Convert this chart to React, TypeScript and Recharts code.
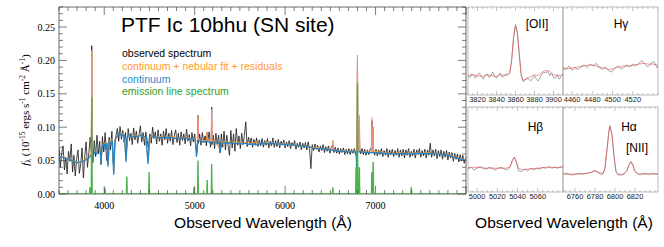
import React from 'react';
import { LineChart, Line, XAxis, YAxis, ReferenceArea } from 'recharts';

type Pt = [number, number | null];

// ---------- main panel data (wavelength in Å, flux in 1e-15 erg/s/cm2/Å) ----------
const observed: Pt[] = [
  [3500, 0.068], [3515, 0.040], [3530, 0.061], [3545, 0.072], [3560, 0.036], [3575, 0.055], [3590, 0.030],
  [3605, 0.064], [3620, 0.049], [3635, 0.075], [3650, 0.033], [3665, 0.058], [3680, 0.027], [3695, 0.052],
  [3710, 0.066], [3725, 0.031], [3740, 0.045], [3755, 0.069], [3770, 0.024], [3785, 0.057], [3800, 0.078],
  [3815, 0.040], [3830, 0.062], [3845, 0.085], [3858, 0.062], [3862, 0.222], [3866, 0.064], [3875, 0.047],
  [3890, 0.080], [3905, 0.056], [3920, 0.088], [3935, 0.060], [3950, 0.079], [3965, 0.044], [3980, 0.086],
  [3995, 0.063], [4010, 0.092], [4025, 0.052], [4040, 0.046], [4055, 0.085], [4070, 0.066], [4085, 0.094],
  [4100, 0.045], [4115, 0.070], [4130, 0.088], [4145, 0.098], [4160, 0.079], [4175, 0.101], [4190, 0.082],
  [4205, 0.095], [4220, 0.077], [4235, 0.092], [4250, 0.070], [4265, 0.098], [4280, 0.080], [4295, 0.091],
  [4310, 0.074], [4325, 0.099], [4340, 0.081], [4355, 0.094], [4370, 0.076], [4385, 0.089], [4400, 0.102],
  [4415, 0.078], [4430, 0.092], [4445, 0.073], [4460, 0.093], [4475, 0.080], [4490, 0.068], [4505, 0.090],
  [4520, 0.076], [4535, 0.100], [4550, 0.083], [4565, 0.093], [4580, 0.075], [4595, 0.096], [4610, 0.079],
  [4625, 0.090], [4640, 0.073], [4655, 0.094], [4670, 0.081], [4685, 0.098], [4700, 0.076], [4715, 0.091],
  [4730, 0.079], [4745, 0.095], [4760, 0.074], [4775, 0.088], [4790, 0.096], [4805, 0.077], [4820, 0.091],
  [4835, 0.073], [4850, 0.093], [4865, 0.080], [4880, 0.090], [4895, 0.075], [4910, 0.097], [4925, 0.079],
  [4940, 0.089], [4955, 0.072], [4970, 0.092], [4985, 0.078], [5000, 0.090], [5015, 0.070], [5025, 0.062],
  [5033, 0.082], [5037, 0.118], [5041, 0.076], [5055, 0.090], [5070, 0.073], [5085, 0.092], [5100, 0.077],
  [5115, 0.087], [5130, 0.072], [5138, 0.092], [5145, 0.079], [5160, 0.093], [5175, 0.070], [5184, 0.080],
  [5188, 0.130], [5192, 0.074], [5205, 0.088], [5220, 0.068], [5235, 0.091], [5250, 0.074], [5265, 0.088],
  [5280, 0.062], [5295, 0.090], [5310, 0.070], [5325, 0.094], [5340, 0.066], [5355, 0.088], [5370, 0.072],
  [5385, 0.058], [5400, 0.095], [5415, 0.069], [5430, 0.090], [5445, 0.064], [5460, 0.098], [5475, 0.073],
  [5490, 0.087], [5505, 0.068], [5520, 0.091], [5535, 0.074], [5550, 0.088], [5565, 0.108], [5580, 0.071],
  [5595, 0.085], [5610, 0.074], [5625, 0.084], [5640, 0.070], [5655, 0.082], [5670, 0.073], [5685, 0.084],
  [5700, 0.071], [5715, 0.081], [5730, 0.072], [5745, 0.083], [5760, 0.070], [5775, 0.080], [5790, 0.073],
  [5805, 0.083], [5820, 0.069], [5835, 0.079], [5850, 0.072], [5865, 0.084], [5880, 0.070], [5895, 0.080],
  [5910, 0.071], [5925, 0.082], [5940, 0.069], [5955, 0.079], [5970, 0.073], [5985, 0.081], [6000, 0.069],
  [6015, 0.078], [6030, 0.071], [6045, 0.080], [6060, 0.068], [6075, 0.077], [6090, 0.072], [6105, 0.080],
  [6120, 0.067], [6135, 0.076], [6150, 0.070], [6165, 0.078], [6180, 0.066], [6195, 0.076], [6210, 0.069],
  [6225, 0.077], [6240, 0.066], [6255, 0.078], [6270, 0.068], [6285, 0.038], [6300, 0.074], [6315, 0.065],
  [6330, 0.075], [6345, 0.067], [6360, 0.073], [6375, 0.063], [6390, 0.072], [6405, 0.065], [6420, 0.074],
  [6435, 0.062], [6450, 0.071], [6465, 0.064], [6480, 0.072], [6495, 0.061], [6510, 0.070], [6527, 0.074],
  [6540, 0.062], [6555, 0.070], [6570, 0.061], [6585, 0.069], [6600, 0.060], [6615, 0.068], [6630, 0.062],
  [6645, 0.069], [6660, 0.059], [6675, 0.067], [6690, 0.060], [6705, 0.068], [6720, 0.059], [6735, 0.067],
  [6750, 0.061], [6765, 0.068], [6780, 0.059], [6790, 0.056], [6796, 0.090], [6800, 0.200], [6804, 0.090],
  [6812, 0.064], [6817, 0.080], [6821, 0.110], [6825, 0.068], [6835, 0.060], [6850, 0.068], [6865, 0.059],
  [6880, 0.067], [6895, 0.058], [6910, 0.066], [6925, 0.059], [6940, 0.067], [6956, 0.070], [6960, 0.110],
  [6967, 0.080], [6974, 0.100], [6978, 0.064], [6990, 0.058], [7005, 0.067], [7020, 0.057], [7035, 0.066],
  [7050, 0.059], [7065, 0.068], [7080, 0.056], [7095, 0.065], [7110, 0.058], [7125, 0.068], [7140, 0.055],
  [7155, 0.066], [7170, 0.059], [7185, 0.067], [7200, 0.056], [7215, 0.065], [7230, 0.058], [7245, 0.068],
  [7260, 0.055], [7275, 0.066], [7290, 0.057], [7305, 0.067], [7320, 0.054], [7335, 0.066], [7350, 0.058],
  [7365, 0.068], [7380, 0.055], [7395, 0.064], [7410, 0.057], [7425, 0.067], [7440, 0.054], [7455, 0.066],
  [7470, 0.059], [7485, 0.068], [7500, 0.055], [7515, 0.065], [7530, 0.057], [7545, 0.067], [7560, 0.054],
  [7575, 0.066], [7590, 0.058], [7605, 0.076], [7620, 0.055], [7635, 0.066], [7650, 0.057], [7665, 0.067],
  [7680, 0.053], [7695, 0.065], [7710, 0.056], [7725, 0.066], [7740, 0.052], [7755, 0.064], [7770, 0.055],
  [7785, 0.065], [7800, 0.051], [7815, 0.063], [7830, 0.054], [7845, 0.062], [7860, 0.049], [7875, 0.061],
  [7890, 0.052], [7905, 0.060], [7920, 0.048], [7935, 0.059], [7950, 0.050], [7965, 0.058], [7980, 0.046],
  [8000, 0.055],
];

const fitted: Pt[] = [
  [3500, 0.057], [3530, 0.054], [3560, 0.056], [3590, 0.052], [3620, 0.053], [3650, 0.049], [3680, 0.050],
  [3710, 0.046], [3740, 0.049], [3770, 0.050], [3800, 0.054], [3830, 0.055], [3850, 0.060], [3858, 0.058],
  [3862, 0.215], [3866, 0.058], [3880, 0.059], [3900, 0.064], [3930, 0.067], [3955, 0.068], [3965, 0.050],
  [3980, 0.072], [4000, 0.076], [4030, 0.078], [4042, 0.045], [4060, 0.080], [4090, 0.082], [4105, 0.034],
  [4120, 0.083], [4150, 0.089], [4180, 0.092], [4215, 0.089], [4241, 0.052], [4260, 0.088], [4300, 0.086],
  [4350, 0.088], [4400, 0.087], [4450, 0.086], [4485, 0.050], [4510, 0.086], [4560, 0.085], [4620, 0.086],
  [4680, 0.084], [4740, 0.086], [4800, 0.085], [4860, 0.083], [4920, 0.085], [4980, 0.082], [5020, 0.080],
  [5033, 0.081], [5037, 0.118], [5041, 0.081], [5080, 0.080], [5134, 0.080], [5138, 0.093], [5142, 0.080],
  [5184, 0.080], [5188, 0.110], [5192, 0.080], [5230, 0.079], [5281, 0.066], [5310, 0.078], [5360, 0.078],
  [5420, 0.077], [5480, 0.078], [5540, 0.076], [5600, 0.076], [5660, 0.077], [5720, 0.075], [5780, 0.077],
  [5840, 0.076], [5900, 0.076], [5960, 0.075], [6020, 0.075], [6080, 0.074], [6140, 0.073], [6200, 0.072],
  [6260, 0.071], [6320, 0.070], [6380, 0.069], [6440, 0.067], [6500, 0.067], [6523, 0.066], [6527, 0.080],
  [6531, 0.066], [6580, 0.065], [6640, 0.065], [6700, 0.064], [6760, 0.064], [6796, 0.064], [6800, 0.208],
  [6804, 0.064], [6817, 0.064], [6821, 0.100], [6825, 0.064], [6880, 0.063], [6956, 0.063], [6960, 0.100],
  [6964, 0.065], [6970, 0.064], [6974, 0.100], [6978, 0.064], [7040, 0.063], [7100, 0.062], [7160, 0.061],
  [7220, 0.061], [7280, 0.062], [7340, 0.061], [7400, 0.061], [7460, 0.062], [7520, 0.061], [7580, 0.062],
  [7640, 0.061], [7700, 0.060], [7760, 0.059], [7820, 0.058], [7880, 0.056], [7940, 0.053], [8000, 0.051],
];

const nebular: Pt[] = [
  [3858, 0.058], [3862, 0.200], [3866, 0.058], [3870, null],
  [5033, 0.080], [5037, 0.114], [5041, 0.080], [5045, null],
  [5184, 0.078], [5188, 0.127], [5192, 0.078], [5196, null],
  [6523, 0.066], [6527, 0.080], [6531, 0.066], [6535, null],
  [6796, 0.063], [6800, 0.190], [6804, 0.063], [6808, null],
  [6817, 0.063], [6821, 0.118], [6825, 0.063], [6829, null],
  [6956, 0.062], [6960, 0.115], [6964, 0.062],
];

const continuum: Pt[] = [
  [3500, 0.056], [3540, 0.055], [3580, 0.053], [3620, 0.051], [3660, 0.049], [3700, 0.047], [3740, 0.048],
  [3780, 0.050], [3820, 0.053], [3850, 0.057], [3875, 0.056], [3895, 0.063], [3915, 0.060], [3935, 0.069],
  [3955, 0.066], [3965, 0.046], [3975, 0.070], [3995, 0.075], [4015, 0.066], [4030, 0.076], [4042, 0.041],
  [4055, 0.078], [4075, 0.074], [4090, 0.080], [4105, 0.029], [4120, 0.081], [4140, 0.085], [4160, 0.091],
  [4180, 0.089], [4200, 0.087], [4225, 0.088], [4241, 0.048], [4255, 0.086], [4280, 0.088], [4310, 0.085],
  [4340, 0.087], [4370, 0.086], [4400, 0.088], [4430, 0.085], [4460, 0.086], [4485, 0.045], [4500, 0.084],
  [4540, 0.086], [4580, 0.085], [4620, 0.084], [4660, 0.085], [4700, 0.084], [4740, 0.085], [4780, 0.083],
  [4820, 0.084], [4860, 0.083], [4900, 0.084], [4940, 0.082], [4980, 0.083], [5005, 0.081], [5020, 0.056],
  [5035, 0.079], [5060, 0.080], [5093, 0.078], [5130, 0.079], [5170, 0.077], [5210, 0.078], [5250, 0.076],
  [5270, 0.077], [5281, 0.061], [5295, 0.076], [5330, 0.077], [5360, 0.076], [5400, 0.077], [5440, 0.075],
  [5480, 0.076], [5520, 0.075], [5560, 0.076], [5600, 0.074], [5640, 0.075], [5680, 0.074], [5720, 0.075],
  [5760, 0.076], [5800, 0.075], [5850, 0.076], [5900, 0.075], [5950, 0.075], [6000, 0.074], [6050, 0.075],
  [6100, 0.073], [6150, 0.072], [6200, 0.072], [6250, 0.071], [6300, 0.069], [6350, 0.068], [6400, 0.068],
  [6450, 0.067], [6500, 0.066], [6550, 0.065], [6600, 0.064], [6650, 0.064], [6700, 0.063], [6750, 0.063],
  [6786, 0.063], [6792, 0.030], [6798, 0.063], [6850, 0.063], [6900, 0.062], [6950, 0.062], [7000, 0.062],
  [7050, 0.061], [7100, 0.061], [7150, 0.060], [7200, 0.060], [7250, 0.060], [7300, 0.061], [7350, 0.060],
  [7400, 0.060], [7450, 0.061], [7500, 0.061], [7550, 0.060], [7600, 0.061], [7650, 0.060], [7700, 0.060],
  [7750, 0.059], [7800, 0.058], [7850, 0.056], [7900, 0.054], [7950, 0.052], [8000, 0.050],
];

const emission: Pt[] = [
  [3500, 0], [3838, 0], [3842, 0.010], [3846, 0], [3857, 0], [3862, 0.145], [3867, 0], [4004, 0], [4008, 0.009],
  [4012, 0], [4246, 0], [4250, 0.026], [4254, 0], [4492, 0], [4496, 0.033], [4500, 0], [4989, 0], [4993, 0.010],
  [4997, 0], [5033, 0], [5037, 0.050], [5041, 0], [5134, 0], [5138, 0.021], [5142, 0], [5184, 0], [5188, 0.045],
  [5192, 0], [6523, 0], [6527, 0.010], [6531, 0], [6780, 0], [6784, 0.040], [6788, 0], [6796, 0], [6800, 0.166],
  [6804, 0], [6817, 0], [6821, 0.040], [6825, 0], [6955, 0], [6959, 0.033], [6963, 0], [6970, 0], [6974, 0.048],
  [6978, 0], [7390, 0], [7394, 0.010], [7398, 0], [8000, 0],
];

const xDomain: [number, number] = [3500, 8000];
const yDomain: [number, number] = [0, 0.28];
const xLabelTicks = [4000, 5000, 6000, 7000];
const xMinorTicks = Array.from({ length: 46 }, (_, i) => 3500 + i * 100);
const yMinorTicks = Array.from({ length: 29 }, (_, i) => i / 100);

// ---------- zoom panels ----------
const oiiObs: Pt[] = [
  [3810, 0.21], [3812, 0.20], [3814, 0.24], [3816, 0.22], [3818, 0.19], [3820, 0.23], [3822, 0.25], [3824, 0.21],
  [3826, 0.18], [3828, 0.22], [3830, 0.24], [3832, 0.20], [3834, 0.22], [3836, 0.26], [3838, 0.21], [3840, 0.19],
  [3842, 0.23], [3844, 0.25], [3846, 0.20], [3848, 0.22], [3850, 0.24], [3852, 0.23], [3854, 0.26], [3856, 0.40],
  [3858, 0.66], [3860, 0.80], [3862, 0.70], [3864, 0.45], [3866, 0.22], [3868, 0.15], [3870, 0.17], [3872, 0.20],
  [3874, 0.18], [3876, 0.16], [3878, 0.19], [3880, 0.22], [3882, 0.18], [3884, 0.16], [3886, 0.20], [3888, 0.24],
  [3890, 0.26], [3892, 0.25], [3894, 0.27], [3896, 0.22], [3898, 0.25], [3900, 0.20], [3902, 0.19], [3904, 0.23],
  [3906, 0.18], [3908, 0.21], [3910, 0.24],
];
const oiiFit: Pt[] = [
  [3810, 0.22], [3815, 0.23], [3820, 0.22], [3825, 0.21], [3830, 0.23], [3835, 0.22], [3840, 0.21], [3845, 0.23],
  [3850, 0.22], [3854, 0.25], [3856, 0.40], [3858, 0.65], [3860, 0.79], [3862, 0.72], [3864, 0.46], [3866, 0.24],
  [3868, 0.17], [3872, 0.18], [3876, 0.21], [3880, 0.23], [3884, 0.22], [3888, 0.26], [3892, 0.28], [3896, 0.27],
  [3900, 0.23], [3905, 0.22], [3910, 0.23],
];
const hgObs: Pt[] = [
  [4451, 0.30], [4454, 0.29], [4457, 0.33], [4460, 0.28], [4463, 0.31], [4466, 0.29], [4469, 0.32], [4472, 0.34],
  [4475, 0.31], [4478, 0.35], [4481, 0.33], [4484, 0.36], [4487, 0.31], [4490, 0.29], [4493, 0.32], [4496, 0.28],
  [4499, 0.26], [4502, 0.30], [4505, 0.33], [4508, 0.30], [4511, 0.31], [4514, 0.34], [4517, 0.32], [4520, 0.35],
  [4523, 0.33], [4526, 0.36], [4529, 0.39], [4532, 0.35], [4535, 0.32], [4538, 0.36], [4541, 0.38], [4544, 0.31],
  [4545, 0.33],
];
const hgFit: Pt[] = [
  [4451, 0.31], [4456, 0.30], [4461, 0.31], [4466, 0.32], [4471, 0.33], [4476, 0.34], [4481, 0.34], [4486, 0.32],
  [4491, 0.31], [4496, 0.29], [4501, 0.30], [4506, 0.32], [4511, 0.33], [4516, 0.33], [4521, 0.34], [4526, 0.35],
  [4531, 0.36], [4536, 0.35], [4541, 0.35], [4545, 0.34],
];
const hbObs: Pt[] = [
  [4991, 0.27], [4994, 0.29], [4997, 0.26], [5000, 0.28], [5003, 0.30], [5006, 0.28], [5009, 0.27], [5012, 0.29],
  [5015, 0.28], [5018, 0.26], [5021, 0.28], [5024, 0.29], [5027, 0.27], [5030, 0.26], [5033, 0.30], [5035, 0.38],
  [5037, 0.41], [5039, 0.34], [5041, 0.25], [5044, 0.24], [5047, 0.27], [5050, 0.25], [5053, 0.28], [5056, 0.26],
  [5059, 0.28], [5062, 0.27], [5065, 0.29], [5068, 0.28], [5071, 0.30], [5074, 0.28], [5077, 0.29], [5080, 0.28],
  [5083, 0.30], [5085, 0.29],
];
const hbFit: Pt[] = [
  [4991, 0.29], [5000, 0.29], [5010, 0.28], [5020, 0.28], [5028, 0.28], [5032, 0.29], [5035, 0.37], [5037, 0.41],
  [5039, 0.35], [5041, 0.28], [5045, 0.26], [5050, 0.27], [5060, 0.28], [5070, 0.29], [5080, 0.29], [5085, 0.29],
];
const haObs: Pt[] = [
  [6748, 0.21], [6752, 0.22], [6756, 0.20], [6760, 0.21], [6764, 0.22], [6768, 0.21], [6772, 0.22], [6776, 0.23],
  [6779, 0.25], [6782, 0.24], [6785, 0.21], [6788, 0.21], [6790, 0.28], [6792, 0.50], [6794, 0.72], [6795, 0.78],
  [6797, 0.68], [6799, 0.42], [6801, 0.24], [6803, 0.20], [6806, 0.20], [6809, 0.21], [6812, 0.25], [6814, 0.32],
  [6816, 0.36], [6818, 0.32], [6820, 0.24], [6823, 0.21], [6826, 0.21], [6830, 0.22], [6834, 0.21], [6838, 0.22],
  [6843, 0.21],
];
const haFit: Pt[] = [
  [6748, 0.21], [6756, 0.21], [6764, 0.21], [6772, 0.22], [6776, 0.23], [6780, 0.25], [6784, 0.23], [6788, 0.22],
  [6790, 0.28], [6792, 0.50], [6794, 0.73], [6795, 0.77], [6797, 0.67], [6799, 0.42], [6801, 0.24], [6803, 0.21],
  [6808, 0.21], [6812, 0.25], [6814, 0.32], [6816, 0.35], [6818, 0.31], [6820, 0.24], [6824, 0.21], [6832, 0.21],
  [6843, 0.21],
];

const rows = (p: Pt[]) => p.map(([w, f]) => ({ w, f }));

// layout of the main plotting box
const PL = 59, PR = 466, PT = 7, PB = 194;
const SANS = 'Liberation Sans, Arial, sans-serif';
const SERIF = 'Liberation Serif, Times New Roman, serif';

const MainXTick = (props: any) => {
  const { x, payload } = props;
  const v = payload.value;
  const major = v % 1000 === 0;
  const len = major ? 8 : 4;
  return (
    <g>
      <line x1={x} x2={x} y1={PB} y2={PB - len} stroke="#444" strokeWidth={0.7} />
      <line x1={x} x2={x} y1={PT} y2={PT + len} stroke="#444" strokeWidth={0.7} />
      {xLabelTicks.includes(v) && (
        <text x={x} y={PB + 14.5} textAnchor="middle" fontFamily={SERIF} fontSize={10} fill="#000">{v}</text>
      )}
    </g>
  );
};

const MainYTick = (props: any) => {
  const { y, payload } = props;
  const v = payload.value;
  const major = Math.round(v * 100) % 5 === 0;
  const len = major ? 8 : 4;
  return (
    <g>
      <line x1={PL} x2={PL + len} y1={y} y2={y} stroke="#444" strokeWidth={0.7} />
      <line x1={PR} x2={PR - len} y1={y} y2={y} stroke="#444" strokeWidth={0.7} />
      {major && (
        <text x={PL - 4} y={y + 3.5} textAnchor="end" fontFamily={SERIF} fontSize={10} fill="#000">{v.toFixed(2)}</text>
      )}
    </g>
  );
};

function Panel(props: {
  left: number; top: number; width: number; height: number;
  domain: [number, number]; labels: number[]; minor: number[]; obs: Pt[]; fit: Pt[];
}) {
  const { left, top, width, height, domain, labels, minor, obs, fit } = props;
  const LH = 12;
  const XT = (p: any) => {
    const { x, payload } = p;
    const v = payload.value;
    const lab = labels.includes(v);
    const len = lab ? 4 : 2;
    return (
      <g>
        <line x1={x} x2={x} y1={1 + height} y2={1 + height - len} stroke="#999" strokeWidth={0.6} />
        <line x1={x} x2={x} y1={1} y2={1 + len} stroke="#999" strokeWidth={0.6} />
        {lab && (
          <text x={x} y={1 + height + 6.8} textAnchor="middle" fontFamily={SANS} fontSize={7.5} fill="#222">{v}</text>
        )}
      </g>
    );
  };
  const YT = (p: any) => {
    const { y, payload } = p;
    const len = Math.round(payload.value * 100) % 25 === 0 ? 4 : 2;
    return (
      <g>
        <line x1={1} x2={1 + len} y1={y} y2={y} stroke="#999" strokeWidth={0.6} />
        <line x1={1 + width} x2={1 + width - len} y1={y} y2={y} stroke="#999" strokeWidth={0.6} />
      </g>
    );
  };
  return (
    <div style={{ position: 'absolute', left: left - 1, top: top - 1 }}>
      <LineChart width={width + 2} height={height + LH + 2} margin={{ top: 1, right: 1, bottom: 1, left: 1 }}>
        <XAxis dataKey="w" type="number" domain={domain} allowDataOverflow ticks={minor} interval={0}
          tick={XT} tickLine={false} axisLine={false} height={LH} />
        <YAxis type="number" domain={[0, 1]} allowDataOverflow width={0}
          ticks={[0.05, 0.1, 0.15, 0.2, 0.25, 0.3, 0.35, 0.4, 0.45, 0.5, 0.55, 0.6, 0.65, 0.7, 0.75, 0.8, 0.85, 0.9, 0.95]}
          interval={0} tick={YT} tickLine={false} axisLine={false} />
        <ReferenceArea x1={domain[0]} x2={domain[1]} y1={0} y2={1} fill="none" stroke="#aaa" strokeWidth={0.8} />
        <Line data={rows(obs)} dataKey="f" stroke="#8a8a8a" strokeWidth={0.8} dot={false} isAnimationActive={false} />
        <Line data={rows(fit)} dataKey="f" stroke="#e8464a" strokeOpacity={0.8} strokeWidth={0.7} dot={false} isAnimationActive={false} />
      </LineChart>
    </div>
  );
}

const range = (a: number, b: number, s: number) => Array.from({ length: Math.floor((b - a) / s) + 1 }, (_, i) => a + i * s);

export default function App() {
  return (
    <div style={{ position: 'absolute', left: 0, top: 0, width: 664, height: 247, background: '#fff' }}>
      <LineChart width={664} height={247} margin={{ top: PT, right: 664 - PR, bottom: 0, left: 0 }}>
        <XAxis dataKey="w" type="number" domain={xDomain} allowDataOverflow ticks={xMinorTicks} interval={0}
          tick={MainXTick} tickLine={false} axisLine={false} height={247 - PB} />
        <YAxis type="number" domain={yDomain} allowDataOverflow ticks={yMinorTicks} interval={0}
          tick={MainYTick} tickLine={false} axisLine={false} width={PL} />
        <ReferenceArea x1={xDomain[0]} x2={xDomain[1]} y1={yDomain[0]} y2={yDomain[1]} fill="none" stroke="#444" strokeWidth={0.8} />
        <Line data={rows(observed)} dataKey="f" stroke="#151515" strokeWidth={0.8} dot={false} isAnimationActive={false} />
        <Line data={rows(fitted)} dataKey="f" stroke="#ff9a2a" strokeWidth={1} dot={false} isAnimationActive={false} />
        <Line data={rows(nebular)} dataKey="f" stroke="#f28c8c" strokeWidth={1.2} dot={false} isAnimationActive={false} />
        <Line data={rows(continuum)} dataKey="f" stroke="#2383c9" strokeWidth={1.3} dot={false} isAnimationActive={false} />
        <Line data={rows(emission)} dataKey="f" stroke="#4cb34c" strokeWidth={1.4} dot={false} isAnimationActive={false} />
      </LineChart>

      <Panel left={468} top={7} width={95} height={88} domain={[3810, 3910]} labels={[3820, 3840, 3860, 3880, 3900]}
        minor={range(3810, 3910, 5)} obs={oiiObs} fit={oiiFit} />
      <Panel left={563} top={7} width={95} height={88} domain={[4451, 4545]} labels={[4460, 4480, 4500, 4520]}
        minor={range(4455, 4545, 5)} obs={hgObs} fit={hgFit} />
      <Panel left={468} top={107} width={95} height={85} domain={[4991, 5085]} labels={[5000, 5020, 5040, 5060]}
        minor={range(4995, 5085, 5)} obs={hbObs} fit={hbFit} />
      <Panel left={563} top={107} width={95} height={85} domain={[6748, 6843]} labels={[6760, 6780, 6800, 6820]}
        minor={range(6750, 6840, 5)} obs={haObs} fit={haFit} />

      <svg width={664} height={247} style={{ position: 'absolute', left: 0, top: 0, pointerEvents: 'none' }}>
        <text x={121} y={32} fontFamily={SANS} fontSize={21} fill="#000">PTF Ic 10bhu (SN site)</text>
        <g fontFamily={SANS} fontSize={10.5}>
          <text x={122} y={56.5} fill="#000">observed spectrum</text>
          <text x={122} y={69.5} fill="#ff9a2a">continuum + nebular fit + residuals</text>
          <text x={122} y={82.5} fill="#2a8ccc">continuum</text>
          <text x={122} y={94.5} fill="#2ca02c">emission line spectrum</text>
        </g>
        <text transform="translate(29,110) rotate(-90)" textAnchor="middle" fontFamily={SERIF} fontSize={11} fill="#000">
          <tspan fontStyle="italic">f</tspan>
          <tspan fontSize={7.5} dy={2}>λ</tspan>
          <tspan dy={-2}> (10</tspan>
          <tspan fontSize={7.5} dy={-4}>-15</tspan>
          <tspan dy={4}> ergs s</tspan>
          <tspan fontSize={7.5} dy={-4}>-1</tspan>
          <tspan dy={4}> cm</tspan>
          <tspan fontSize={7.5} dy={-4}>-2</tspan>
          <tspan dy={4}> Å</tspan>
          <tspan fontSize={7.5} dy={-4}>-1</tspan>
          <tspan dy={4}>)</tspan>
        </text>
        <text x={263} y={227.5} textAnchor="middle" fontFamily={SANS} fontSize={15.5} fill="#000">Observed Wavelength (Å)</text>
        <text x={564} y={227.5} textAnchor="middle" fontFamily={SANS} fontSize={15.5} fill="#000">Observed Wavelength (Å)</text>
        <g fontFamily={SANS} fontSize={12} fill="#000" textAnchor="middle">
          <text x={537} y={27.5}>[OII]</text>
          <text x={621} y={27.5}>Hγ</text>
          <text x={535.5} y={131}>Hβ</text>
          <text x={629} y={131}>Hα</text>
          <text x={637} y={152}>[NII]</text>
        </g>
      </svg>
    </div>
  );
}
